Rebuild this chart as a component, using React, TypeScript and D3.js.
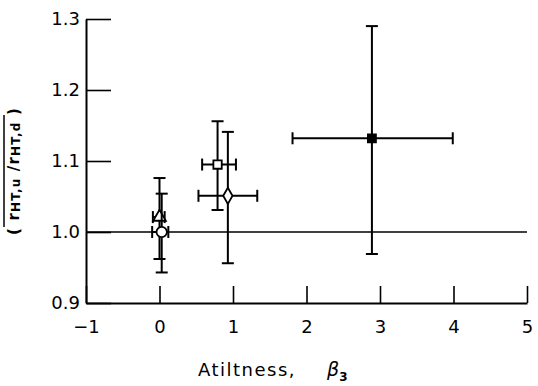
import { useEffect, useRef } from "react";
import * as d3 from "d3";

// measured points: x = tiltness beta3, y = ratio, with error extents
const markers = ["triangle", "circle", "square", "diamond", "filled"];
const xVals = [0.0, 0.03, 0.79, 0.93, 2.89];
const yVals = [1.021, 1.0, 1.095, 1.051, 1.132];
const xLo = [-0.09, -0.1, 0.58, 0.53, 1.81];
const xHi = [0.07, 0.12, 1.04, 1.33, 3.99];
const yLo = [0.962, 0.943, 1.031, 0.956, 0.969];
const yHi = [1.076, 1.054, 1.156, 1.141, 1.29];

const xTicks = [-1, 0, 1, 2, 3, 4, 5];
const yTicks = [0.9, 1.0, 1.1, 1.2, 1.3];

const W = 538;
const H = 386;
const FONT = "DejaVu Sans, sans-serif";

const App = () => {
  const plotRef = useRef<SVGGElement>(null);

  useEffect(() => {
    const root = d3.select(plotRef.current);
    root.selectAll("*").remove();

    const x = d3.scaleLinear().domain([-1, 5]).range([86, 527]);
    const y = d3.scaleLinear().domain([0.9, 1.3]).range([303, 19]);

    // y axis, ticks pointing inward
    const yAxis = root
      .append("g")
      .attr("transform", `translate(${x(-1)},0)`)
      .call(
        d3
          .axisLeft(y)
          .tickValues(yTicks)
          .tickFormat(d3.format(".1f"))
          .tickSizeInner(-25)
          .tickSizeOuter(0)
          .tickPadding(6)
      );
    yAxis.select(".domain").attr("stroke-width", 2);
    yAxis.selectAll(".tick line").attr("stroke-width", 1.6);
    yAxis
      .selectAll("text")
      .attr("font-family", FONT)
      .attr("font-size", 18)
      .attr("fill", "#000");

    // x axis, ticks pointing up
    const xAxis = root
      .append("g")
      .attr("transform", `translate(0,${y(0.9)})`)
      .call(
        d3
          .axisBottom(x)
          .tickValues(xTicks)
          .tickFormat(d3.format("d"))
          .tickSizeInner(-17)
          .tickSizeOuter(0)
          .tickPadding(17)
      );
    xAxis.select(".domain").attr("stroke-width", 2);
    xAxis.selectAll(".tick line").attr("stroke-width", 1.6);
    xAxis
      .selectAll("text")
      .attr("font-family", FONT)
      .attr("font-size", 18)
      .attr("fill", "#000");

    // reference line at 1.0
    root
      .append("line")
      .attr("x1", x(-1))
      .attr("x2", x(5))
      .attr("y1", y(1.0))
      .attr("y2", y(1.0))
      .attr("stroke", "#000")
      .attr("stroke-width", 1.3);

    const data = markers.map((m, i) => ({
      m,
      x: xVals[i],
      y: yVals[i],
      x0: xLo[i],
      x1: xHi[i],
      y0: yLo[i],
      y1: yHi[i],
    }));

    const cap = 6;
    const g = root
      .selectAll(".pt")
      .data(data)
      .enter()
      .append("g")
      .attr("class", "pt")
      .attr("stroke", "#000")
      .attr("stroke-width", 2);

    // vertical bars
    g.append("line")
      .attr("x1", (d) => x(d.x))
      .attr("x2", (d) => x(d.x))
      .attr("y1", (d) => y(d.y0))
      .attr("y2", (d) => y(d.y1));
    g.append("line")
      .attr("x1", (d) => x(d.x) - cap)
      .attr("x2", (d) => x(d.x) + cap)
      .attr("y1", (d) => y(d.y0))
      .attr("y2", (d) => y(d.y0));
    g.append("line")
      .attr("x1", (d) => x(d.x) - cap)
      .attr("x2", (d) => x(d.x) + cap)
      .attr("y1", (d) => y(d.y1))
      .attr("y2", (d) => y(d.y1));

    // horizontal bars
    g.append("line")
      .attr("x1", (d) => x(d.x0))
      .attr("x2", (d) => x(d.x1))
      .attr("y1", (d) => y(d.y))
      .attr("y2", (d) => y(d.y));
    g.append("line")
      .attr("x1", (d) => x(d.x0))
      .attr("x2", (d) => x(d.x0))
      .attr("y1", (d) => y(d.y) - cap)
      .attr("y2", (d) => y(d.y) + cap);
    g.append("line")
      .attr("x1", (d) => x(d.x1))
      .attr("x2", (d) => x(d.x1))
      .attr("y1", (d) => y(d.y) - cap)
      .attr("y2", (d) => y(d.y) + cap);

    // markers
    const symType: Record<string, d3.SymbolType> = {
      triangle: d3.symbolTriangle,
      circle: d3.symbolCircle,
      square: d3.symbolSquare,
      diamond: d3.symbolDiamond,
      filled: d3.symbolSquare,
    };
    const symSize: Record<string, number> = {
      triangle: 70,
      circle: 85,
      square: 70,
      diamond: 75,
      filled: 64,
    };
    g.append("path")
      .attr("transform", (d) => `translate(${x(d.x)},${y(d.y)})`)
      .attr("d", (d) => d3.symbol().type(symType[d.m]).size(symSize[d.m])()!)
      .attr("fill", (d) => (d.m === "filled" ? "#000" : "#fff"))
      .attr("stroke-width", 1.8);
  }, []);

  return (
    <svg
      width={W}
      height={H}
      style={{ position: "absolute", left: 0, top: 0, background: "#fff" }}
    >
      <g ref={plotRef} />

      {/* x axis title */}
      <text x={198} y={376} fontFamily={FONT} fontSize={18} letterSpacing={1.5} fill="#000">
        Atiltness,
      </text>
      <text x={327} y={376} fontFamily={FONT} fontSize={19} fontStyle="italic" fill="#000">
        β
        <tspan fontSize={12} fontStyle="normal" fontWeight="bold" dy={5}>
          3
        </tspan>
      </text>

      {/* y axis title, overlined ratio */}
      <g transform="translate(19,171) rotate(-90)">
        <text
          x={0}
          y={0}
          textAnchor="middle"
          fontFamily={FONT}
          fontSize={15}
          fontWeight="bold"
          letterSpacing={1.2}
          fill="#000"
        >
          ( r
          <tspan fontSize={12} dy={1}>HT,u</tspan>
          <tspan dy={-1}> /r</tspan>
          <tspan fontSize={12} dy={1}>HT,d</tspan>
          <tspan dy={-1}> )</tspan>
        </text>
        <line x1={-56} x2={56} y1={-15} y2={-15} stroke="#000" strokeWidth={1.5} />
      </g>
    </svg>
  );
};

export default App;
